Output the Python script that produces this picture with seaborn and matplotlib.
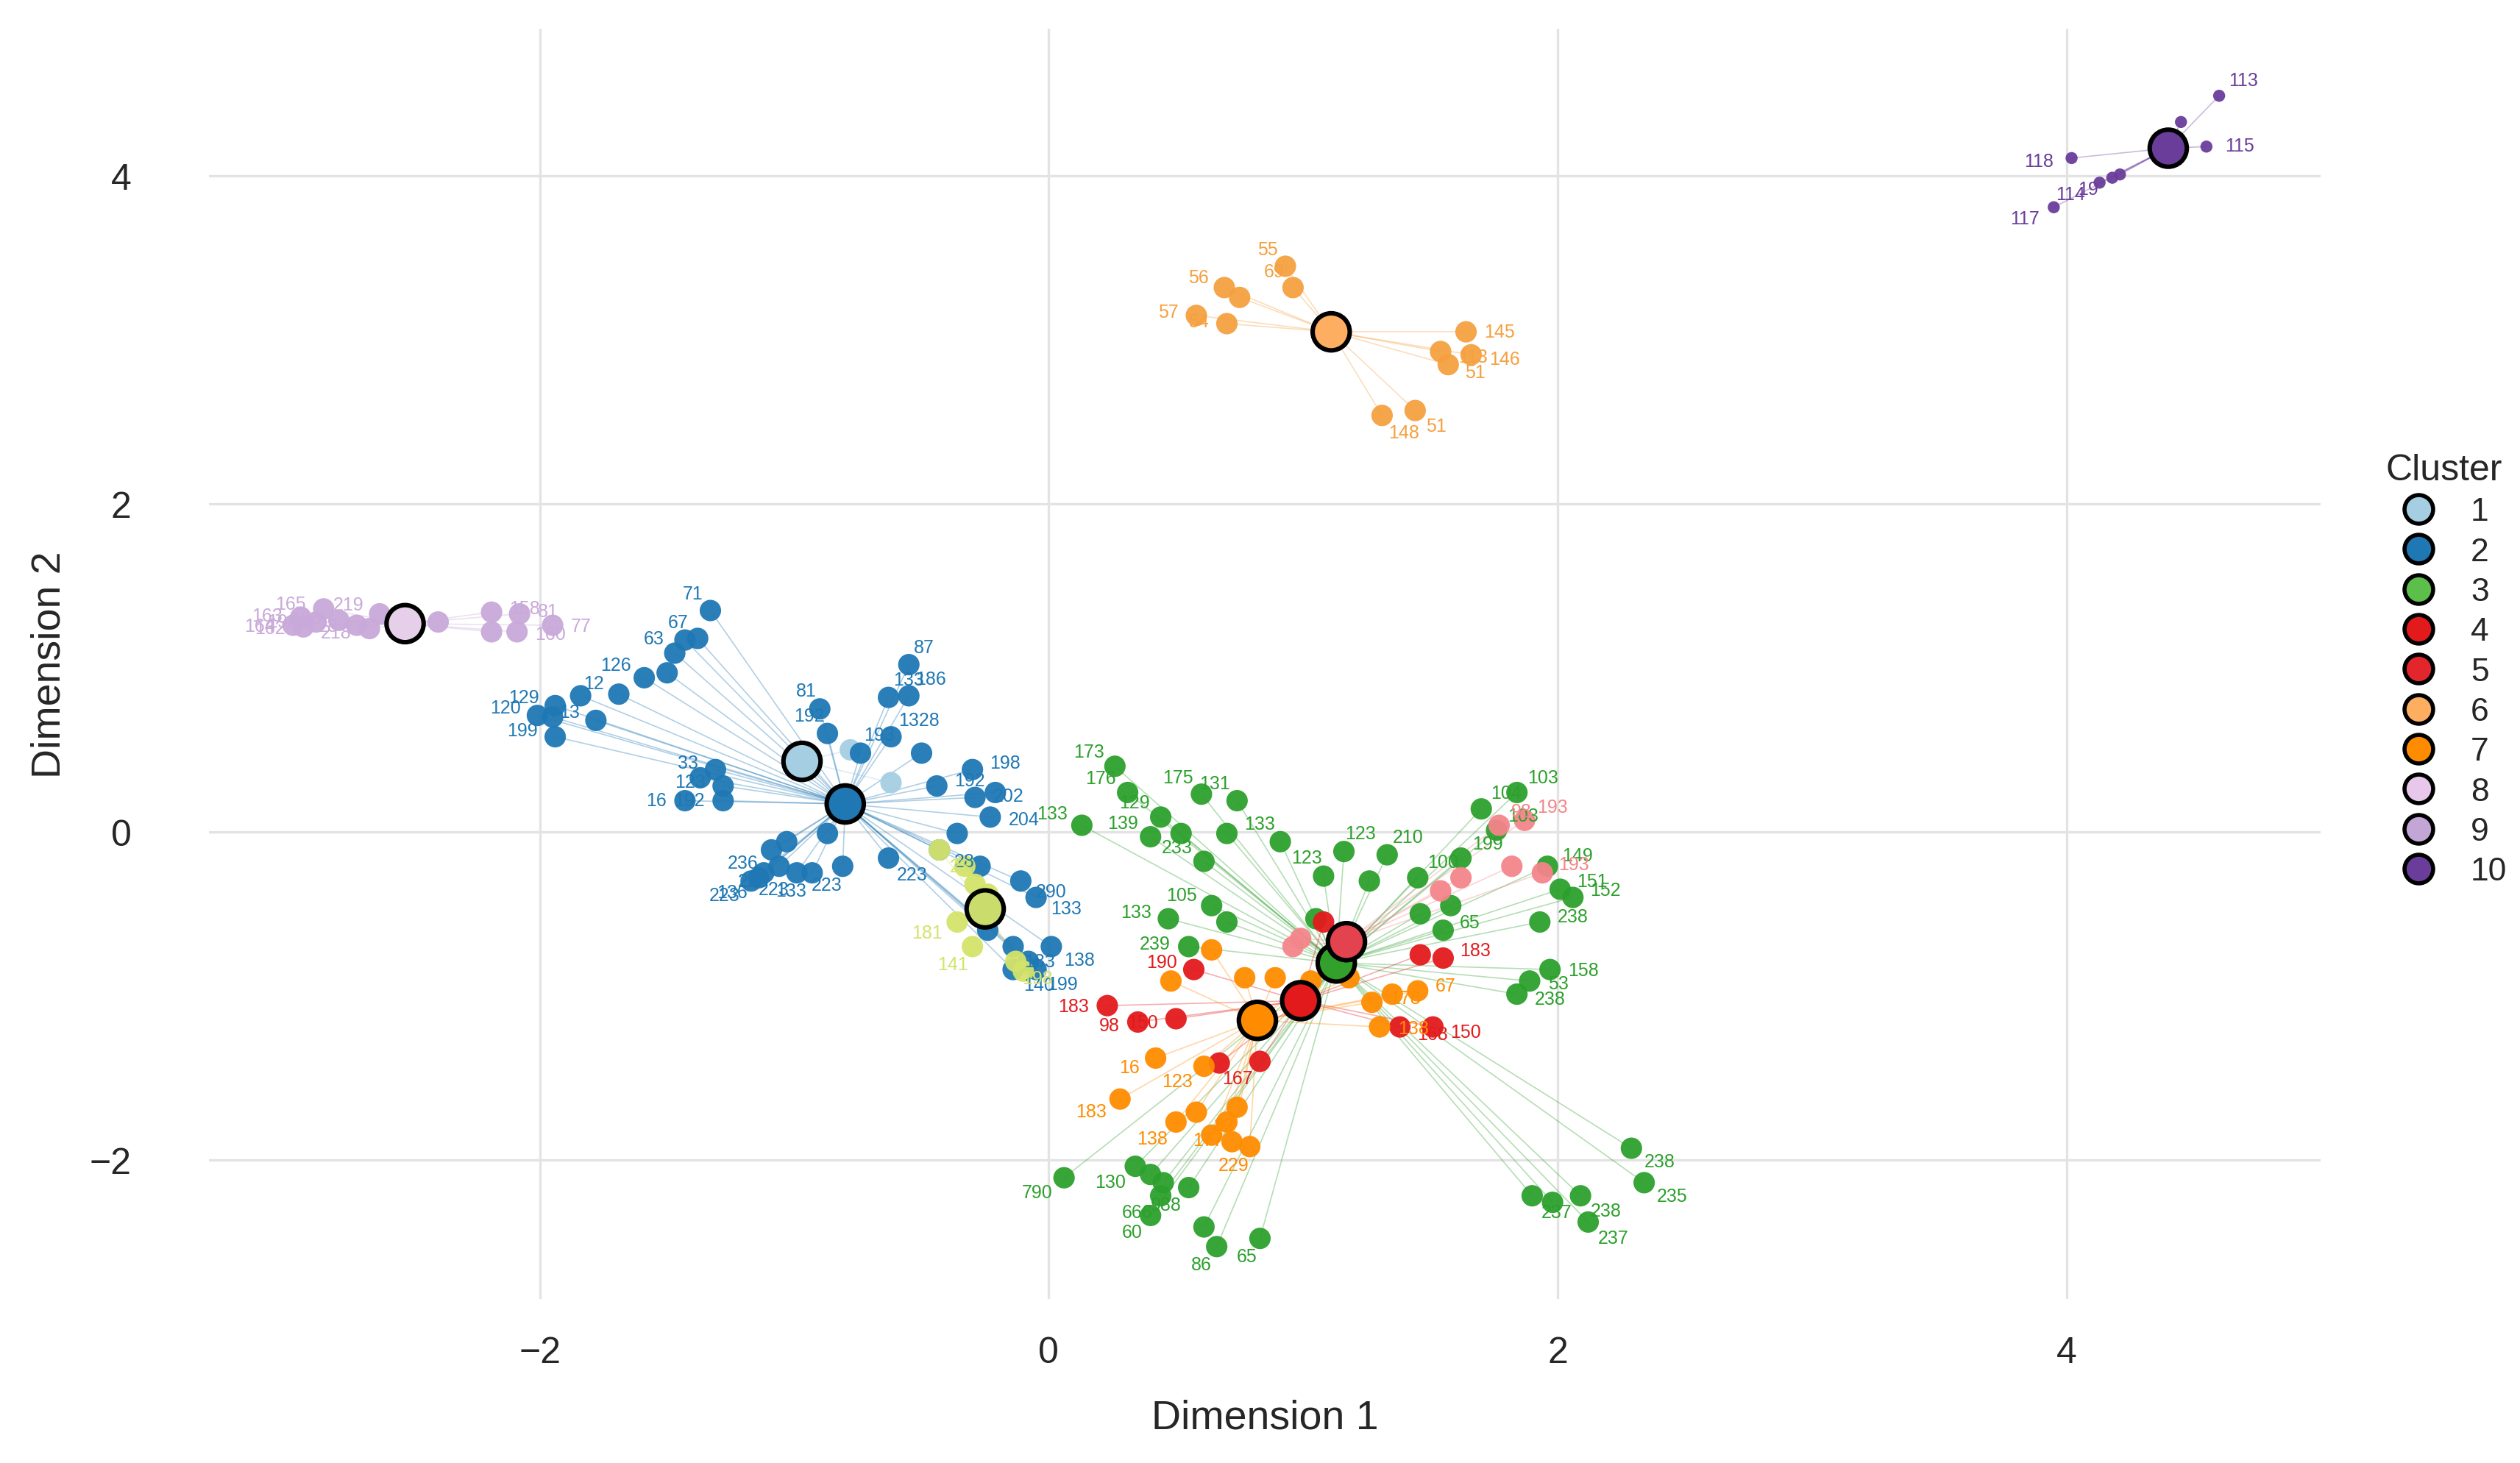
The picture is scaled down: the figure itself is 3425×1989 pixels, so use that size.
import numpy as np
import pandas as pd
import matplotlib
matplotlib.use('Agg')
import matplotlib.pyplot as plt
from matplotlib.lines import Line2D
from matplotlib.collections import LineCollection
import seaborn as sns

# Cluster centres (Dimension 1, Dimension 2)
centers = {
    1: (-0.97, 0.43), 2: (-0.80, 0.17), 3: (1.13, -0.80), 4: (1.17, -0.67),
    5: (0.99, -1.03), 6: (1.11, 3.05), 7: (0.82, -1.15), 8: (-0.25, -0.47),
    9: (-2.53, 1.27), 10: (4.40, 4.17),
}
center_fill = {1: '#a6cee3', 2: '#1f78b4', 3: '#33a02c', 4: '#e2434f', 5: '#e31a1c',
               6: '#fdae61', 7: '#ff8c00', 8: '#c9dc6c', 9: '#e6cfe8', 10: '#6a3d9a'}
point_color = {1: '#a6cee3', 2: '#1f78b4', 3: '#2ca02c', 4: '#f4858a', 5: '#e31a1c',
               6: '#f5a040', 7: '#ff8c00', 8: '#d4e36a', 9: '#c9a9d9', 10: '#6a3d9a'}
legend_color = {1: '#a6cee3', 2: '#1f78b4', 3: '#5cbf4a', 4: '#e31a1c', 5: '#e3262c',
                6: '#fdae61', 7: '#ff8c00', 8: '#e8c8ea', 9: '#c3a5d6', 10: '#6a3d9a'}

c1_x = [-0.78, -0.62]
c1_y = [0.50, 0.30]
c1_l = ['', '']

c2_x = [-1.33, -1.38, -1.43, -1.47, -1.50, -1.59, -1.69, -1.78, -1.94, -1.95, -2.01, -1.94, -1.84,
        -0.55, -0.63, -0.55, -0.90, -0.87, -0.74, -0.62, -0.50, -0.44, -0.29, -0.30, -0.21, -0.23,
        -0.36, -0.43, -0.63, -0.87, -1.03, -0.99, -1.12, -1.17, -0.93, -1.09, -1.06, -1.28, -1.31,
        -1.28, -1.43, -1.37, -0.27, -0.11, -0.05, -0.24, -0.14, -0.08, -0.14, -0.05, 0.01, -1.14, -0.81]
c2_y = [1.35, 1.18, 1.17, 1.09, 0.97, 0.94, 0.84, 0.68, 0.77, 0.70, 0.71, 0.58, 0.83,
        1.02, 0.82, 0.83, 0.75, 0.60, 0.48, 0.58, 0.48, 0.28, 0.21, 0.38, 0.24, 0.09,
        -0.01, -0.11, -0.16, -0.01, -0.06, -0.25, -0.25, -0.30, -0.25, -0.11, -0.21, 0.19, 0.38,
        0.28, 0.19, 0.33, -0.21, -0.30, -0.40, -0.60, -0.70, -0.79, -0.84, -0.84, -0.70, -0.28, -0.21]
c2_l = ['71', '67', '', '63', '', '126', '12', '13', '129', '', '120', '199', '',
        '87', '133', '186', '81', '192', '193', '1328', '', '192', '202', '198', '', '204',
        '', '28', '223', '', '', '223', '', '223', '133', '236', '228', '192', '33',
        '123', '16', '', '', '290', '133', '', '183', '', '140', '199', '138', '136', '223']

c3_x = [0.26, 0.31, 0.44, 0.60, 0.74, 0.13, 0.40, 0.52, 0.70, 0.61, 0.91, 1.16, 1.33, 1.08, 1.26,
        1.45, 1.46, 1.58, 1.05, 0.47, 0.64, 0.70, 0.55, 1.62, 1.84, 1.70, 1.76, 1.96, 2.01, 2.06,
        1.93, 1.55, 1.97, 1.89, 1.84, 0.06, 0.34, 0.40, 0.45, 0.44, 0.55, 0.40, 0.61, 0.66, 0.83,
        2.29, 2.34, 2.09, 1.90, 1.98, 2.12]
c3_y = [0.40, 0.24, 0.09, 0.23, 0.19, 0.04, -0.03, -0.01, -0.01, -0.18, -0.06, -0.12, -0.14, -0.27,
        -0.30, -0.28, -0.50, -0.45, -0.53, -0.53, -0.45, -0.55, -0.70, -0.16, 0.24, 0.14, 0.01,
        -0.21, -0.35, -0.40, -0.55, -0.60, -0.84, -0.91, -0.99, -2.11, -2.04, -2.09, -2.14, -2.22,
        -2.17, -2.34, -2.41, -2.53, -2.48, -1.93, -2.14, -2.22, -2.22, -2.26, -2.38]
c3_l = ['173', '176', '129', '175', '131', '133', '139', '', '', '233', '133', '123', '210', '123', '',
        '100', '', '', '', '133', '105', '', '239', '199', '103', '104', '103', '149', '151', '152',
        '238', '65', '158', '53', '238', '790', '130', '', '', '666', '988', '60', '', '86', '65',
        '238', '235', '238', '237', '', '237']

c4_x = [1.77, 1.87, 1.82, 1.94, 1.62, 1.54, 0.99, 0.96]
c4_y = [0.04, 0.07, -0.21, -0.25, -0.28, -0.36, -0.65, -0.70]
c4_l = ['98', '193', '', '193', '', '', '', '']

c5_x = [0.35, 0.50, 0.57, 0.23, 0.67, 0.83, 1.38, 1.51, 1.46, 1.55, 1.16, 1.08]
c5_y = [-1.16, -1.14, -0.84, -1.06, -1.41, -1.40, -1.19, -1.19, -0.75, -0.77, -0.70, -0.55]
c5_l = ['98', '150', '190', '183', '', '167', '168', '150', '', '183', '', '']

c6_x = [0.93, 0.69, 0.75, 0.58, 0.70, 0.96, 1.64, 1.54, 1.66, 1.57, 1.44, 1.31]
c6_y = [3.45, 3.32, 3.26, 3.15, 3.10, 3.32, 3.05, 2.93, 2.91, 2.85, 2.57, 2.54]
c6_l = ['55', '56', '', '57', '54', '69', '145', '113', '146', '51', '51', '148']

c7_x = [0.48, 0.64, 0.77, 0.89, 1.03, 1.18, 1.27, 1.35, 1.45, 1.30, 0.28, 0.50, 0.58, 0.64,
        0.72, 0.79, 0.70, 0.74, 0.42, 0.61]
c7_y = [-0.91, -0.72, -0.89, -0.89, -0.91, -0.89, -1.04, -0.99, -0.97, -1.19, -1.63, -1.77,
        -1.71, -1.85, -1.89, -1.92, -1.77, -1.68, -1.38, -1.43]
c7_l = ['', '', '', '', '', '', '178', '', '67', '138', '183', '138', '', '', '', '229', '177',
        '83', '16', '123']

c8_x = [-0.33, -0.29, -0.24, -0.43, -0.13, -0.10, -0.36, -0.30]
c8_y = [-0.21, -0.32, -0.38, -0.11, -0.79, -0.85, -0.55, -0.70]
c8_l = ['', '23', '', '', '198', '', '181', '141']

c9_x = [-2.97, -2.93, -2.88, -2.79, -2.63, -2.72, -2.40, -2.19, -2.09, -2.19, -1.95, -2.85,
        -2.94, -2.67, -2.08]
c9_y = [1.26, 1.25, 1.28, 1.29, 1.33, 1.26, 1.28, 1.34, 1.22, 1.22, 1.26, 1.36, 1.31, 1.24, 1.33]
c9_l = ['164', '162', '198', '186', '219', '28', '', '158', '160', '', '77', '165', '163', '218', '81']

c10_x = [4.60, 4.55, 4.02, 3.95, 4.13, 4.18, 4.45, 4.21]
c10_y = [4.49, 4.18, 4.11, 3.81, 3.96, 3.99, 4.33, 4.01]
c10_l = ['113', '115', '118', '117', '114', '19', '', '']

groups = {1: (c1_x, c1_y, c1_l), 2: (c2_x, c2_y, c2_l), 3: (c3_x, c3_y, c3_l),
          4: (c4_x, c4_y, c4_l), 5: (c5_x, c5_y, c5_l), 6: (c6_x, c6_y, c6_l),
          7: (c7_x, c7_y, c7_l), 8: (c8_x, c8_y, c8_l), 9: (c9_x, c9_y, c9_l),
          10: (c10_x, c10_y, c10_l)}

rows = []
for k, (xs, ys, ls) in groups.items():
    for x, y, l in zip(xs, ys, ls):
        rows.append({'d1': x, 'd2': y, 'lab': l, 'cluster': k})
df = pd.DataFrame(rows)
cen = pd.DataFrame([{'d1': v[0], 'd2': v[1], 'cluster': k} for k, v in centers.items()])

sns.set_theme(style='whitegrid')
plt.rcParams['font.family'] = ['Liberation Sans', 'DejaVu Sans']
fig = plt.figure(figsize=(17.125, 9.95), dpi=200)
ax = fig.add_axes([0.083, 0.112, 0.838, 0.868])

# spokes from each centre to its members
for k, sub in df.groupby('cluster'):
    cx, cy = centers[k]
    segs = [[(cx, cy), (x, y)] for x, y in zip(sub['d1'], sub['d2'])]
    ax.add_collection(LineCollection(segs, colors=point_color[k], linewidths=0.6, alpha=0.35, zorder=1))

for k, sub in df.groupby('cluster'):
    sns.scatterplot(data=sub, x='d1', y='d2', color=point_color[k], s=(35 if k == 10 else 110),
                    edgecolor='none', alpha=0.95, ax=ax, zorder=2, legend=False)
    cx, cy = centers[k]
    for x, y, l in zip(sub['d1'], sub['d2'], sub['lab']):
        if not l:
            continue
        # push labels away from the centre so they spread out
        dx, dy = x - cx, y - cy
        n = np.hypot(dx, dy) or 1.0
        ox, oy = 9 * dx / n, 9 * dy / n
        ha = 'left' if dx >= 0 else 'right'
        ax.annotate(l, (x, y), xytext=(ox, oy), textcoords='offset points', color=point_color[k],
                    fontsize=9, ha=ha, va='center', zorder=3)

sns.scatterplot(data=cen, x='d1', y='d2', hue='cluster', palette=center_fill, s=330,
                edgecolor='black', linewidth=2.2, ax=ax, zorder=4, legend=False)

ax.set_xlim(-3.3, 5.0)
ax.set_ylim(-2.85, 4.9)
ax.set_xticks([-2, 0, 2, 4])
ax.set_yticks([-2, 0, 2, 4])
ax.set_xticklabels(['\u22122', '0', '2', '4'])
ax.set_yticklabels(['\u22122', '0', '2', '4'])
ax.tick_params(axis='x', labelsize=18, length=0, pad=18)
ax.tick_params(axis='y', labelsize=18, length=0, pad=38)
ax.set_xlabel('Dimension 1', fontsize=20, labelpad=14)
ax.set_ylabel('Dimension 2', fontsize=20, labelpad=10)
ax.set_facecolor('white')
ax.grid(color='#e3e3e3', linewidth=1.2)
for s in ax.spines.values():
    s.set_visible(False)

handles = [Line2D([], [], marker='o', linestyle='', markersize=14, markerfacecolor=legend_color[k],
                  markeredgecolor='black', markeredgewidth=2) for k in groups]
leg = fig.legend(handles, [str(k) for k in groups], title='Cluster', loc='upper left',
                 bbox_to_anchor=(0.935, 0.71), frameon=False, fontsize=16, title_fontsize=18,
                 handletextpad=0.6, labelspacing=0.3)
leg._legend_box.align = 'left'

fig.savefig('out.png', dpi=200, facecolor='white')
